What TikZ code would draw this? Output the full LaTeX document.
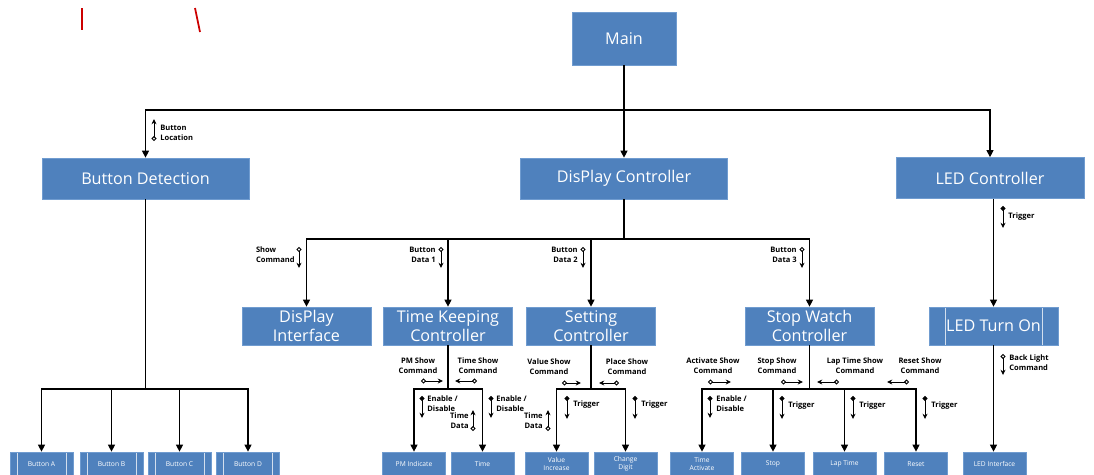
\documentclass[tikz,border=0pt]{standalone}
\usepackage{fontspec}
\setmainfont{Open Sans}
\usetikzlibrary{arrows.meta}
\definecolor{boxblue}{RGB}{79,129,189}
\definecolor{boxedge}{RGB}{112,156,208}
\tikzset{
	box/.style={fill=boxblue, draw=boxedge, line width=0.4pt, text=white, align=center, inner sep=0pt},
	topbox/.style={box, minimum width=#1, minimum height=0.82cm, font=\fontsize{9.2}{11}\selectfont},
	midbox/.style={box, minimum width=2.58cm, minimum height=0.76cm, font=\fontsize{9.2}{10.8}\selectfont},
	leafbox/.style={box, minimum width=1.26cm, minimum height=0.48cm, font=\fontsize{3.8}{4.6}\selectfont},
	inlines/.style={path picture={
		\draw[white!75!boxblue, line width=0.5pt]
			([xshift=#1]path picture bounding box.north west) -- ([xshift=#1]path picture bounding box.south west)
			([xshift=-#1]path picture bounding box.north east) -- ([xshift=-#1]path picture bounding box.south east);}},
	wire/.style={draw, line width=0.6pt},
	arr/.style={wire, -{Triangle[length=4pt,width=4pt]}},
	dcpl/.style={line width=0.55pt, {Circle[open,length=2.8pt,width=2.8pt]}-{Stealth[length=3pt,width=2.8pt]}},
	ccpl/.style={line width=0.55pt, {Circle[length=2.8pt,width=2.8pt]}-{Stealth[length=3pt,width=2.8pt]}},
	lbl/.style={font=\fontsize{4.3}{5.6}\selectfont\bfseries, inner sep=0pt}
}
\begin{document}
\begin{tikzpicture}[x=0.02cm, y=-0.02cm]
	\useasboundingbox (0,0) rectangle (1094,474);

	% pieces of red strokes at the top
	\draw[red!80!black, line width=1pt] (82,8) -- (82,30);
	\draw[red!80!black, line width=1pt] (195,8) -- (200,32);

	% level 1 and 2
	\node[topbox=2.08cm, minimum height=1.06cm] (main) at (624,38.5) {Main};
	\node[topbox=4.14cm] (btnd) at (145.5,178.5) {Button Detection};
	\node[topbox=4.14cm] (dispc) at (624,178.5) {DisPlay Controller};
	\node[topbox=3.76cm] (ledc) at (990,178) {LED Controller};

	% level 3
	\node[midbox] (dispi) at (306.5,326) {DisPlay\\Interface};
	\node[midbox] (tkc) at (448,326) {Time Keeping\\Controller};
	\node[midbox] (setc) at (591,326) {Setting\\Controller};
	\node[midbox] (swc) at (809.5,326) {Stop Watch\\Controller};
	\node[midbox, inlines=0.32cm] (ledt) at (993.5,326) {LED Turn On};

	% level 4
	\node[leafbox, inlines=0.14cm] (btna) at (41.5,464) {Button A};
	\node[leafbox, inlines=0.14cm] (btnb) at (111.5,464) {Button B};
	\node[leafbox, inlines=0.14cm] (btnc) at (179.5,464) {Button C};
	\node[leafbox, inlines=0.14cm] (btnd4) at (248,464) {Button D};
	\node[leafbox] (pmi) at (414,464) {PM Indicate};
	\node[leafbox] (tim) at (482.5,464) {Time};
	\node[leafbox] (vinc) at (556.5,464) {Value\\Increase};
	\node[leafbox] (cdig) at (625.5,464) {Change\\Digit};
	\node[leafbox] (tact) at (702,464) {Time\\Activate};
	\node[leafbox] (stp) at (773,464) {Stop};
	\node[leafbox] (lap) at (844.5,464) {Lap Time};
	\node[leafbox] (rst) at (916,464) {Reset};
	\node[leafbox] (ledi) at (994.5,464) {LED Interface};

	% main bus
	\coordinate (busA) at (624,110);
	\draw[wire] (main.south) -- (busA);
	\draw[arr] (busA) -- (dispc.north);
	\draw[arr] (busA) -| (btnd.north);
	\draw[arr] (busA) -| (ledc.north);

	% display controller bus
	\coordinate (busB) at (624,239);
	\draw[wire] (dispc.south) -- (busB);
	\draw[arr] (busB) -| (dispi.north);
	\draw[arr] (busB) -| (tkc.north);
	\draw[arr] (busB) -| (setc.north);
	\draw[arr] (busB) -| (swc.north);

	% led
	\draw[arr] (ledt.north |- ledc.south) -- (ledt.north);
	\draw[arr] (ledt.south) -- (ledt.south |- ledi.north);

	% lower buses
	\coordinate (busBD) at (145.5,389);
	\draw[wire] (btnd.south) -- (busBD);
	\foreach \n in {btna,btnb,btnc,btnd4}
		\draw[arr] (busBD) -| (\n.north);
	\coordinate (busTK) at (448,389);
	\draw[wire] (tkc.south) -- (busTK);
	\foreach \n in {pmi,tim}
		\draw[arr] (busTK) -| (\n.north);
	\coordinate (busST) at (591,389);
	\draw[wire] (setc.south) -- (busST);
	\foreach \n in {vinc,cdig}
		\draw[arr] (busST) -| (\n.north);
	\coordinate (busSW) at (809.5,389);
	\draw[wire] (swc.south) -- (busSW);
	\foreach \n in {tact,stp,lap,rst}
		\draw[arr] (busSW) -| (\n.north);

	% couples, upper part
	\node[lbl, anchor=west, align=left] (lloc) at (160,133) {Button\\Location};
	\draw[dcpl] (154,141) -- (154,119);
	\node[lbl, anchor=east, align=left] (lshow) at (295,255) {Show\\Command};
	\draw[dcpl] (299,247) -- (299,268);
	\node[lbl, anchor=east, align=right] (ldat1) at (436,255) {Button\\Data 1};
	\draw[dcpl] (441,247) -- (441,268);
	\node[lbl, anchor=east, align=right] (ldat2) at (578,255) {Button\\Data 2};
	\draw[dcpl] (583,247) -- (583,268);
	\node[lbl, anchor=east, align=right] (ldat3) at (797,255) {Button\\Data 3};
	\draw[dcpl] (802,247) -- (802,268);
	\node[lbl, anchor=west] (ltrg) at (1008,217) {Trigger};
	\draw[ccpl] (1003,206) -- (1003,228);
	\node[lbl, anchor=west, align=left] (lback) at (1009,363) {Back Light\\Command};
	\draw[dcpl] (1003,354) -- (1003,375);

	% couples, time keeping
	\node[lbl, align=center] (lpm) at (418,366) {PM Show\\Command};
	\draw[dcpl] (421,381) -- (443,381);
	\node[lbl, align=center] (ltsh) at (478,366) {Time Show\\Command};
	\draw[dcpl] (477,381) -- (455,381);
	\node[lbl, anchor=west, align=left] (len1) at (427,404) {Enable /\\Disable};
	\draw[ccpl] (422,396) -- (422,418);
	\node[lbl, anchor=west, align=left] (len2) at (496,404) {Enable /\\Disable};
	\draw[ccpl] (491,396) -- (491,418);
	\node[lbl, anchor=east, align=right] (ltd1) at (469,421) {Time\\Data};
	\draw[dcpl] (473,431) -- (473,410);

	% couples, setting
	\node[lbl, align=center] (lval) at (549,367) {Value Show\\Command};
	\draw[dcpl] (562,383) -- (581,383);
	\node[lbl, align=center] (lplc) at (627,367) {Place Show\\Command};
	\draw[dcpl] (619,383) -- (599,383);
	\node[lbl, anchor=west] (ltr1) at (573,405) {Trigger};
	\draw[ccpl] (567,396) -- (567,419);
	\node[lbl, anchor=west] (ltr2) at (641,405) {Trigger};
	\draw[ccpl] (635,396) -- (635,419);
	\node[lbl, anchor=east, align=right] (ltd2) at (543,421) {Time\\Data};
	\draw[dcpl] (548,431) -- (548,410);

	% couples, stop watch
	\node[lbl, align=center] (lact) at (713,366) {Activate Show\\Command};
	\draw[dcpl] (708,382) -- (731,382);
	\node[lbl, align=center] (lstp) at (777,366) {Stop Show\\Command};
	\draw[dcpl] (781,382) -- (803,382);
	\node[lbl, align=center] (llap) at (855,366) {Lap Time Show\\Command};
	\draw[dcpl] (839,382) -- (817,382);
	\node[lbl, align=center] (lrst) at (920,366) {Reset Show\\Command};
	\draw[dcpl] (909,382) -- (887,382);
	\node[lbl, anchor=west, align=left] (len3) at (716,404) {Enable /\\Disable};
	\draw[ccpl] (710,396) -- (710,418);
	\node[lbl, anchor=west] (ltr3) at (788,406) {Trigger};
	\draw[ccpl] (782,396) -- (782,419);
	\node[lbl, anchor=west] (ltr4) at (859,406) {Trigger};
	\draw[ccpl] (853,396) -- (853,419);
	\node[lbl, anchor=west] (ltr5) at (931,406) {Trigger};
	\draw[ccpl] (925,396) -- (925,419);
\end{tikzpicture}
\end{document}
